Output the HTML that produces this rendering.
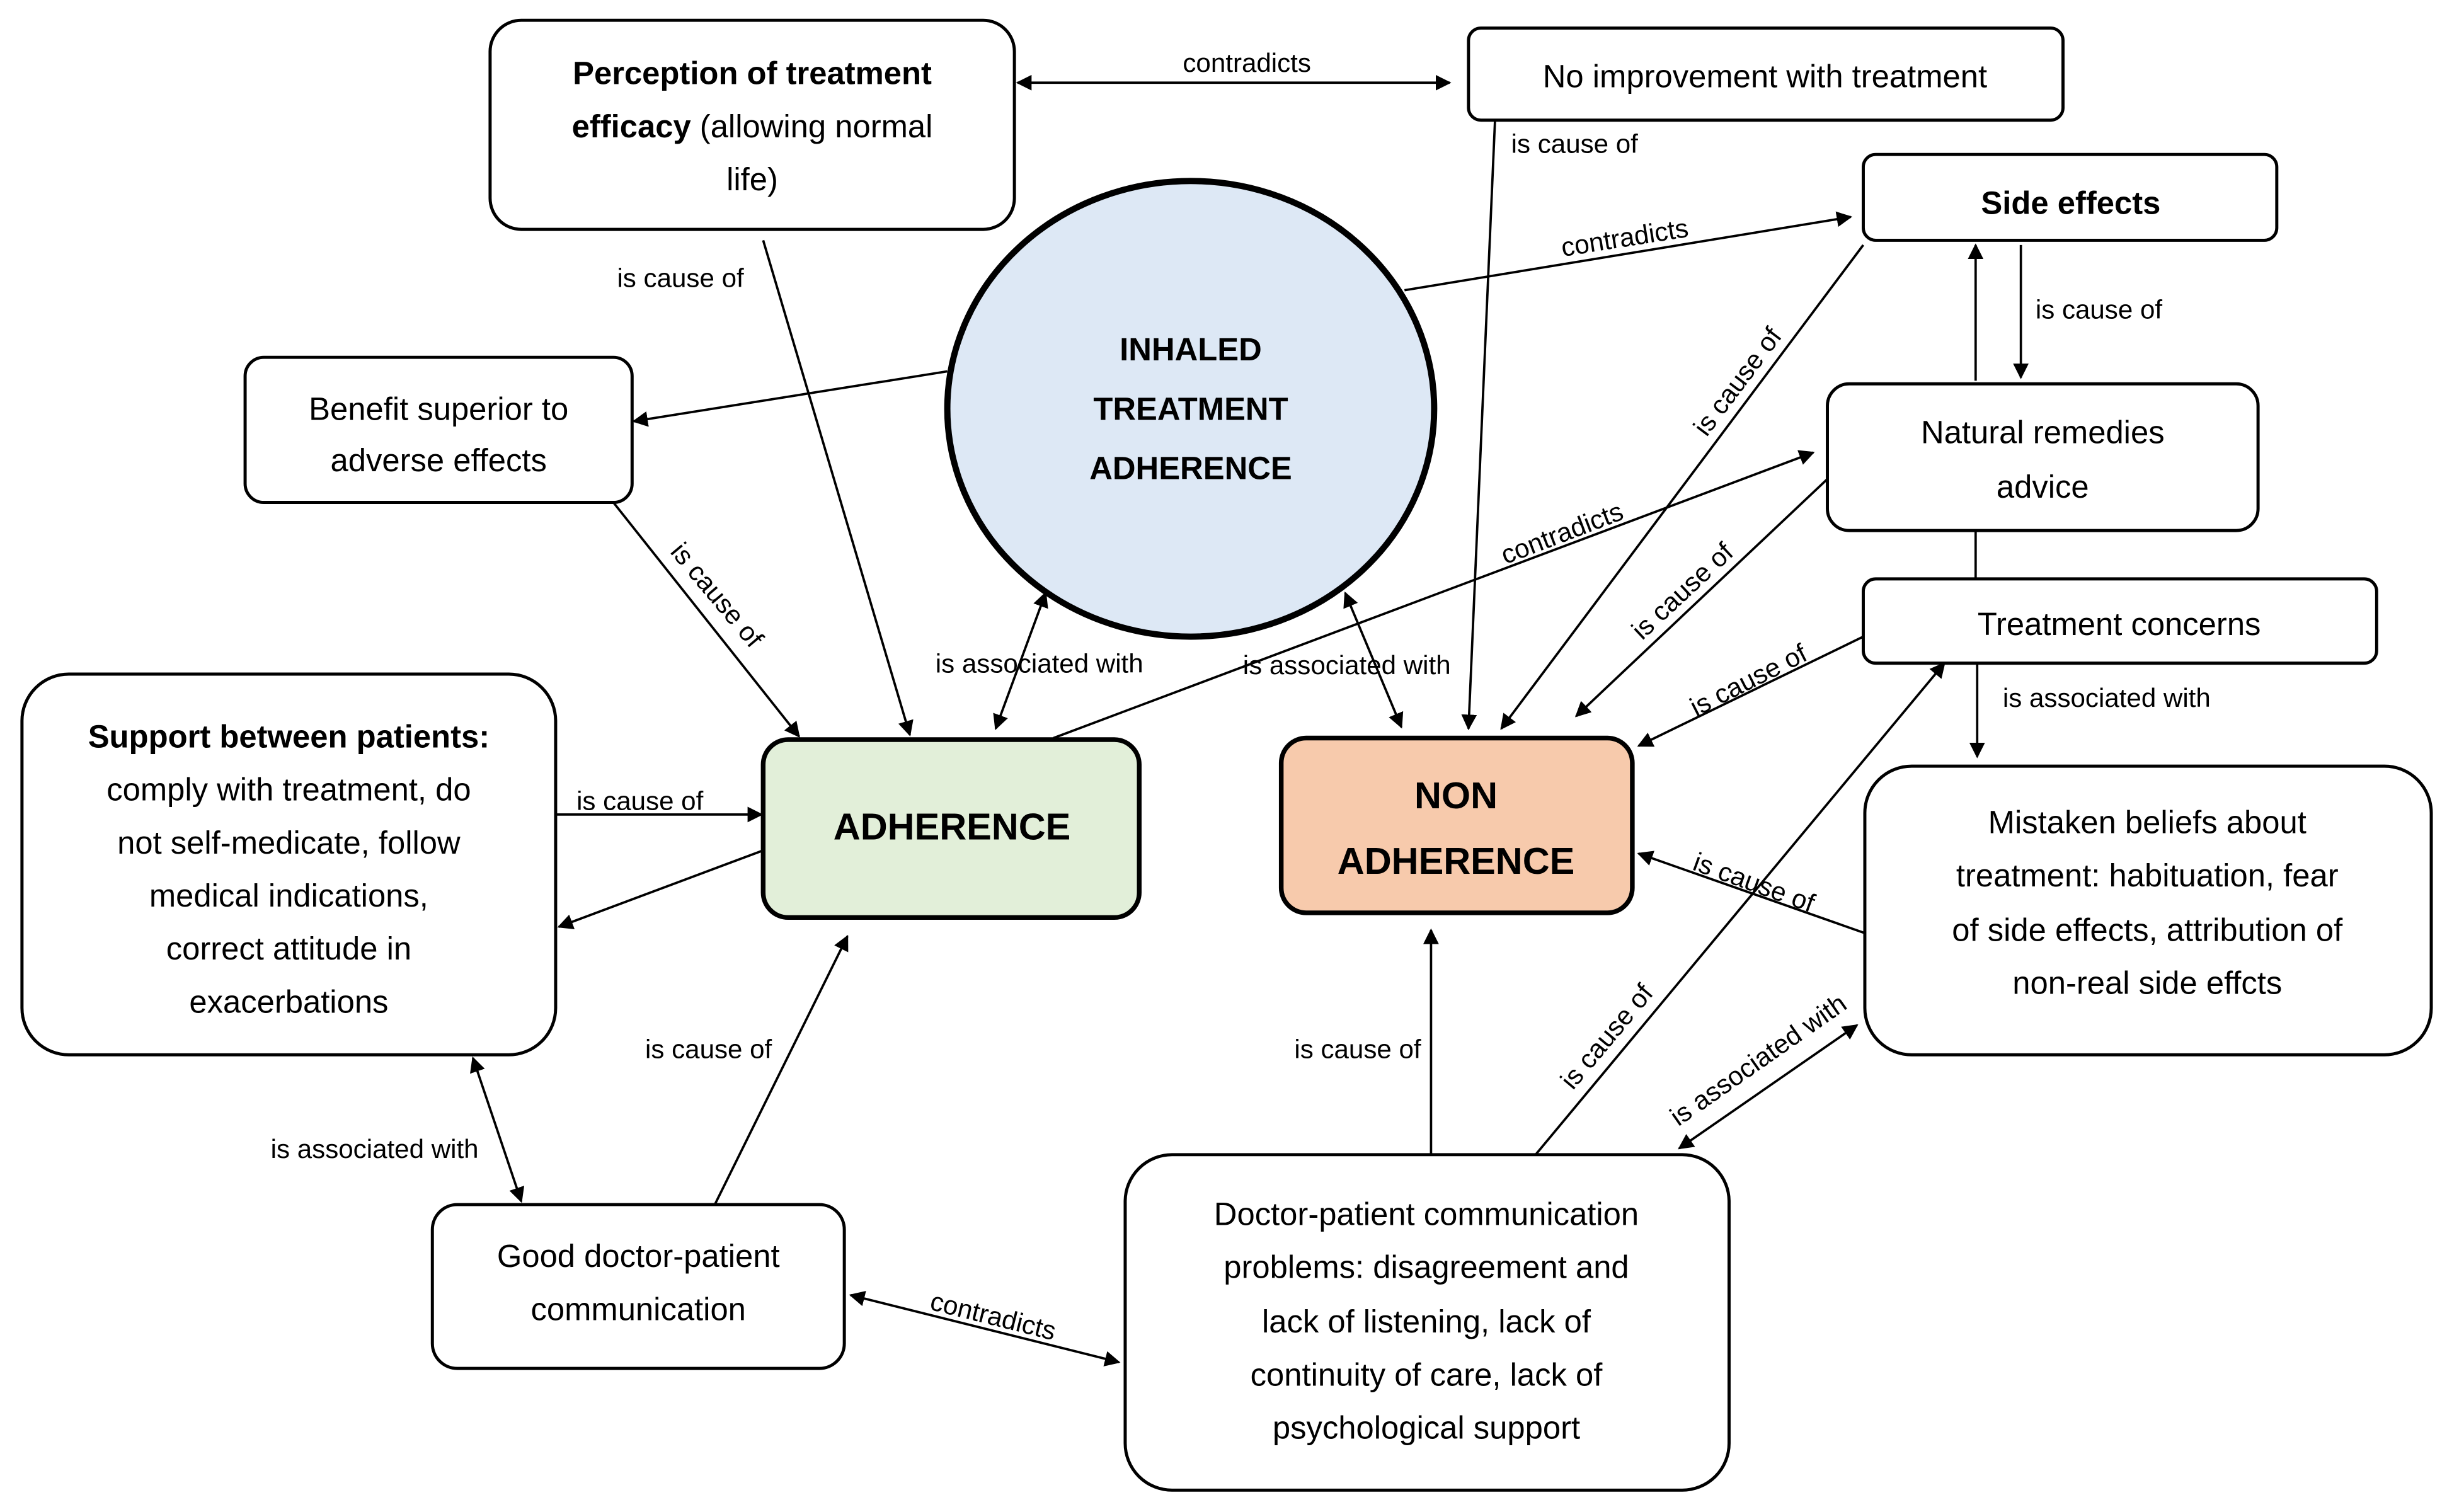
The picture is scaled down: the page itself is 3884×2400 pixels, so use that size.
<!DOCTYPE html>
<html><head><meta charset="utf-8"><style>
html,body{margin:0;padding:0;background:#fff;}
svg{display:block}
text{font-family:"Liberation Sans",sans-serif;fill:#000}
.b{font-size:20.5px;text-anchor:middle}
.l{font-size:17px;text-anchor:middle}
.bold{font-weight:bold}
rect,ellipse{stroke:#000;stroke-width:2;fill:#fff}
line{stroke:#000;stroke-width:1.5}
</style></head><body>
<svg width="3884" height="2400" viewBox="0 0 1568 969" xmlns="http://www.w3.org/2000/svg">
<defs>
<marker id="a" viewBox="0 0 10 10" refX="9" refY="5" markerWidth="10" markerHeight="10" markerUnits="userSpaceOnUse" orient="auto-start-reverse"><path d="M0,0 L10,5 L0,10 z" fill="#000"/></marker>
</defs>
<rect x="0" y="0" width="1568" height="969" style="fill:#fff;stroke:none"/>

<!-- connectors -->
<line x1="652" y1="53" x2="929" y2="53" marker-start="url(#a)" marker-end="url(#a)"/>
<text class="l" x="799" y="46">contradicts</text>
<line x1="958" y1="77" x2="941" y2="467" marker-end="url(#a)"/>
<text class="l" x="1009" y="98">is cause of</text>
<line x1="900" y1="186" x2="1186" y2="139" marker-end="url(#a)"/>
<text class="l" transform="translate(1042,158) rotate(-9)">contradicts</text>
<line x1="1194" y1="157" x2="962" y2="467" marker-end="url(#a)"/>
<text class="l" transform="translate(1118,248) rotate(-53)">is cause of</text>
<line x1="1266" y1="244" x2="1266" y2="157" marker-end="url(#a)"/>
<line x1="1295" y1="157" x2="1295" y2="242" marker-end="url(#a)"/>
<text class="l" x="1345" y="204">is cause of</text>
<line x1="1266" y1="340" x2="1266" y2="371"/>
<line x1="1171" y1="307" x2="1010" y2="459" marker-end="url(#a)"/>
<text class="l" transform="translate(1082,383) rotate(-43)">is cause of</text>
<line x1="1194" y1="408" x2="1050" y2="478" marker-end="url(#a)"/>
<text class="l" transform="translate(1123,441) rotate(-27)">is cause of</text>
<line x1="1267" y1="425" x2="1267" y2="485" marker-end="url(#a)"/>
<text class="l" x="1350" y="453">is associated with</text>
<line x1="1195" y1="598" x2="1050" y2="547" marker-end="url(#a)"/>
<text class="l" transform="translate(1122,571) rotate(20)">is cause of</text>
<line x1="1190" y1="657" x2="1076" y2="736" marker-start="url(#a)" marker-end="url(#a)"/>
<text class="l" transform="translate(1130,684) rotate(-35)">is associated with</text>
<line x1="984" y1="740" x2="1246" y2="425" marker-end="url(#a)"/>
<text class="l" transform="translate(1034,668) rotate(-50)">is cause of</text>
<line x1="917" y1="740" x2="917" y2="596" marker-end="url(#a)"/>
<text class="l" x="870" y="678">is cause of</text>
<line x1="545" y1="830" x2="717" y2="873" marker-start="url(#a)" marker-end="url(#a)"/>
<text class="l" transform="translate(635,849) rotate(14)">contradicts</text>
<line x1="458" y1="772" x2="543" y2="600" marker-end="url(#a)"/>
<text class="l" x="454" y="678">is cause of</text>
<line x1="303" y1="678" x2="334" y2="770" marker-start="url(#a)" marker-end="url(#a)"/>
<text class="l" x="240" y="742">is associated with</text>
<line x1="356" y1="522" x2="488" y2="522" marker-end="url(#a)"/>
<text class="l" x="410" y="519">is cause of</text>
<line x1="489" y1="545" x2="358" y2="594" marker-end="url(#a)"/>
<line x1="393" y1="322" x2="512" y2="472" marker-end="url(#a)"/>
<text class="l" transform="translate(455,385) rotate(50)">is cause of</text>
<line x1="607" y1="238" x2="406" y2="270" marker-end="url(#a)"/>
<line x1="489" y1="154" x2="583" y2="471" marker-end="url(#a)"/>
<text class="l" x="436" y="184">is cause of</text>
<line x1="670" y1="380" x2="638" y2="467" marker-start="url(#a)" marker-end="url(#a)"/>
<text class="l" x="666" y="431">is associated with</text>
<line x1="862" y1="380" x2="898" y2="466" marker-start="url(#a)" marker-end="url(#a)"/>
<text class="l" x="863" y="432">is associated with</text>
<line x1="675" y1="473" x2="1162" y2="290" marker-end="url(#a)"/>
<text class="l" transform="translate(1003,347) rotate(-21)">contradicts</text>

<!-- nodes -->
<rect x="314" y="13" width="336" height="134" rx="20"/>
<text class="b" x="482" y="54"><tspan class="bold">Perception of treatment</tspan></text>
<text class="b" x="482" y="88"><tspan class="bold">efficacy</tspan> (allowing normal</text>
<text class="b" x="482" y="122">life)</text>

<rect x="941" y="18" width="381" height="59" rx="8"/>
<text class="b" x="1131" y="56">No improvement with treatment</text>

<rect x="1194" y="99" width="265" height="55" rx="8"/>
<text class="b bold" x="1327" y="137">Side effects</text>

<rect x="1171" y="246" width="276" height="94" rx="14"/>
<text class="b" x="1309" y="284">Natural remedies</text>
<text class="b" x="1309" y="319">advice</text>

<rect x="1194" y="371" width="329" height="54" rx="8"/>
<text class="b" x="1358" y="407">Treatment concerns</text>

<rect x="1195" y="491" width="363" height="185" rx="30"/>
<text class="b" x="1376" y="534">Mistaken beliefs about</text>
<text class="b" x="1376" y="568">treatment: habituation, fear</text>
<text class="b" x="1376" y="603">of side effects, attribution of</text>
<text class="b" x="1376" y="637">non-real side effcts</text>

<ellipse cx="763" cy="262" rx="156" ry="146" style="fill:#dde8f5;stroke-width:4"/>
<text class="b bold" x="763" y="231">INHALED</text>
<text class="b bold" x="763" y="269">TREATMENT</text>
<text class="b bold" x="763" y="307">ADHERENCE</text>

<rect x="157" y="229" width="248" height="93" rx="12"/>
<text class="b" x="281" y="269">Benefit superior to</text>
<text class="b" x="281" y="302">adverse effects</text>

<rect x="14" y="432" width="342" height="244" rx="30"/>
<text class="b" x="185" y="479"><tspan class="bold">Support between patients:</tspan></text>
<text class="b" x="185" y="513">comply with treatment, do</text>
<text class="b" x="185" y="547">not self-medicate, follow</text>
<text class="b" x="185" y="581">medical indications,</text>
<text class="b" x="185" y="615">correct attitude in</text>
<text class="b" x="185" y="649">exacerbations</text>

<rect x="489" y="474" width="241" height="114" rx="16" style="fill:#e2efd9;stroke-width:3"/>
<text class="b bold" x="610" y="538" style="font-size:24px">ADHERENCE</text>

<rect x="821" y="473" width="225" height="112" rx="16" style="fill:#f7caac;stroke-width:3"/>
<text class="b bold" x="933" y="518" style="font-size:24px">NON</text>
<text class="b bold" x="933" y="560" style="font-size:24px">ADHERENCE</text>

<rect x="277" y="772" width="264" height="105" rx="16"/>
<text class="b" x="409" y="812">Good doctor-patient</text>
<text class="b" x="409" y="846">communication</text>

<rect x="721" y="740" width="387" height="215" rx="30"/>
<text class="b" x="914" y="785">Doctor-patient communication</text>
<text class="b" x="914" y="819">problems: disagreement and</text>
<text class="b" x="914" y="854">lack of listening, lack of</text>
<text class="b" x="914" y="888">continuity of care, lack of</text>
<text class="b" x="914" y="922">psychological support</text>
</svg>
</body></html>
